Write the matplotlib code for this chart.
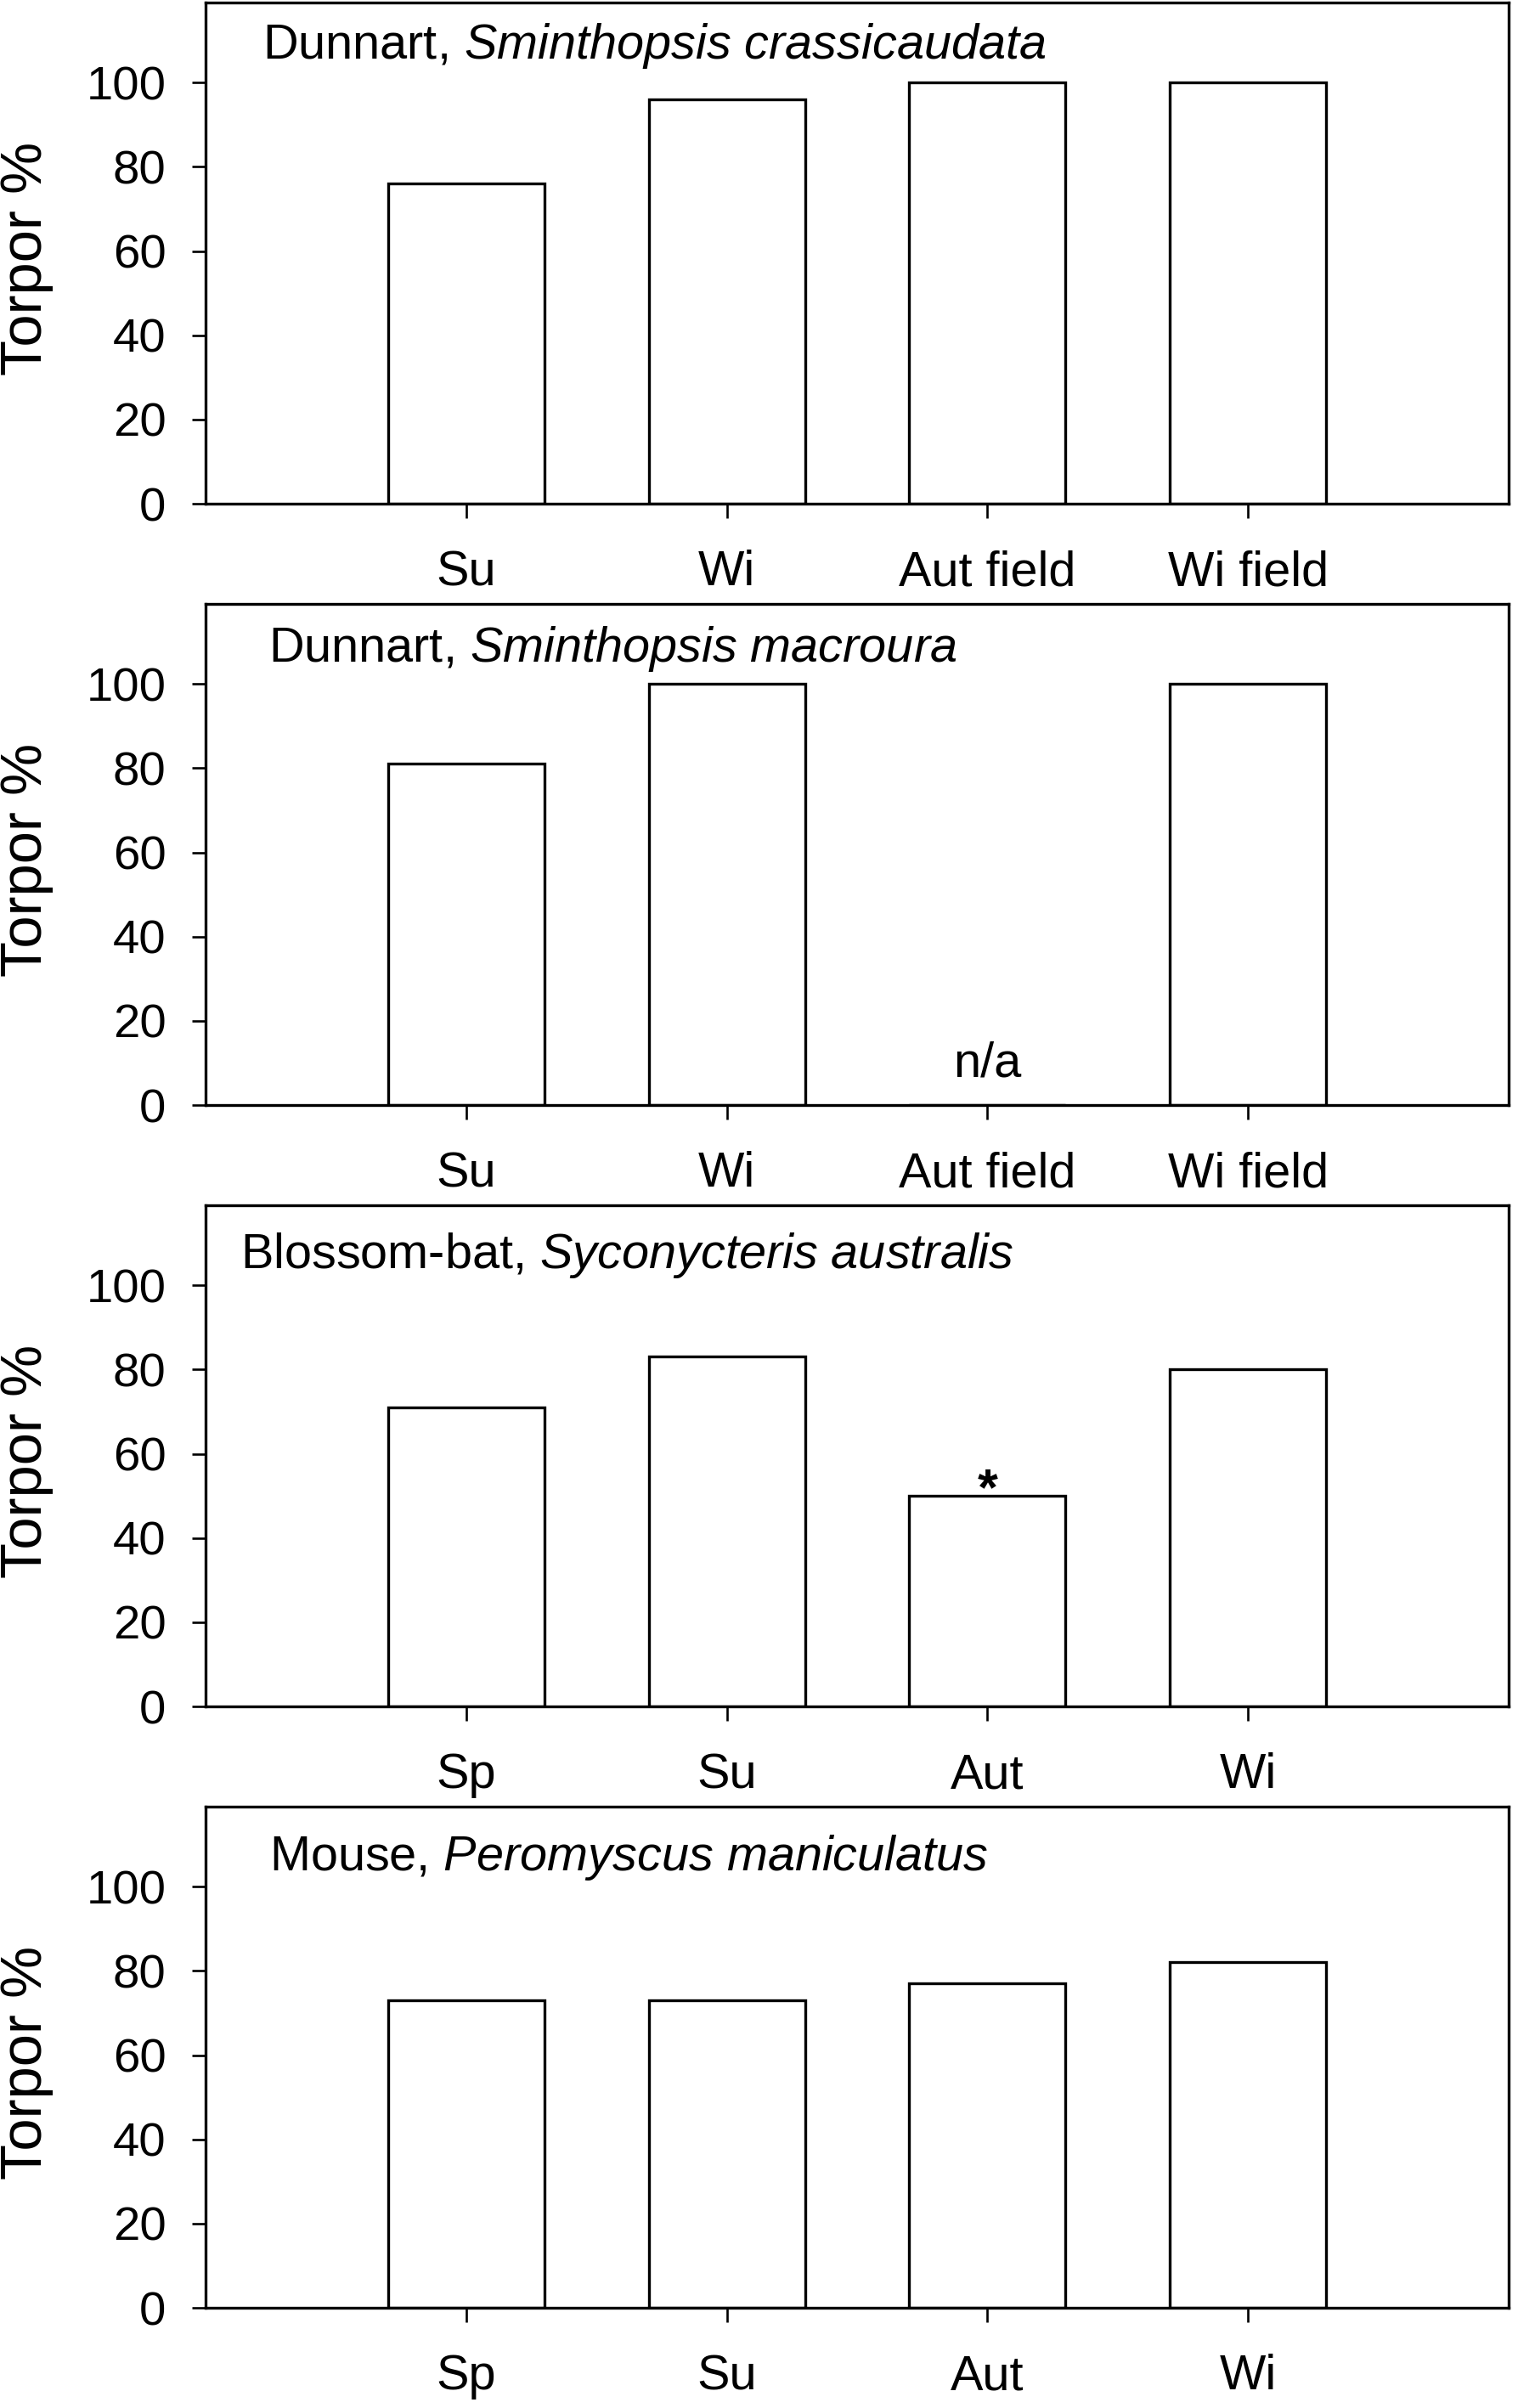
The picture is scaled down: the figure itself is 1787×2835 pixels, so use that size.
import matplotlib
matplotlib.use('Agg')
import matplotlib.pyplot as plt
import numpy as np

plt.rcParams['font.family'] = ['Liberation Sans', 'DejaVu Sans']
plt.rcParams['mathtext.fontset'] = 'custom'
plt.rcParams['mathtext.rm'] = 'Liberation Sans'
plt.rcParams['mathtext.it'] = 'Liberation Sans:italic'

# data
cats_field = ['Su', 'Wi', 'Aut field', 'Wi field']
cats_season = ['Sp', 'Su', 'Aut', 'Wi']

crassicaudata = [76, 96, 100, 100]
macroura = [81, 100, 0, 100]      # Aut field = n/a
syconycteris = [71, 83, 50, 80]
peromyscus = [73, 73, 77, 82]

panels = [
    (r'Dunnart, $\it{Sminthopsis\ crassicaudata}$', cats_field, crassicaudata),
    (r'Dunnart, $\it{Sminthopsis\ macroura}$', cats_field, macroura),
    (r'Blossom-bat, $\it{Syconycteris\ australis}$', cats_season, syconycteris),
    (r'Mouse, $\it{Peromyscus\ maniculatus}$', cats_season, peromyscus),
]
# title positions (data x, data y of baseline)
title_pos = [(0.22, 105.6), (0.24, 105.3), (0.135, 104.0), (0.245, 103.8)]

W, H = 1787, 2835
fig = plt.figure(figsize=(W/100, H/100), dpi=100)

left = 242/W
width = 1534/W
ax_h = 590/H

for i, (title, cats, vals) in enumerate(panels):
    bottom_px = 593 + 708*i
    ax = fig.add_axes([left, 1 - bottom_px/H, width, ax_h])
    x = np.arange(1, len(cats)+1)
    ax.bar(x, vals, width=0.6, color='white', edgecolor='black', linewidth=2.4)
    ax.set_xlim(0, 5)
    ax.set_ylim(0, 119)
    ax.set_yticks(np.arange(0, 101, 20))
    ax.set_xticks(x)
    ax.set_xticklabels(cats)
    for s in ax.spines.values():
        s.set_linewidth(2.4)
    ax.tick_params(axis='y', direction='out', length=11.5, width=1.9,
                   labelsize=40.5, pad=22)
    ax.tick_params(axis='x', direction='out', length=12, width=1.9,
                   labelsize=41.5, pad=27)
    ax.set_ylabel('Torpor %', fontsize=49.5)
    ax.yaxis.set_label_coords(-0.117, 0.49)
    tx, ty = title_pos[i]
    ax.text(tx, ty, title, fontsize=41.5, ha='left', va='baseline')
    if i == 1:
        ax.text(3, 6.7, 'n/a', fontsize=41.5, ha='center', va='baseline')
    if i == 2:
        ax.text(3, 48.0, '*', fontsize=44, fontweight='bold',
                ha='center', va='baseline')

fig.savefig('out.png', dpi=100)
